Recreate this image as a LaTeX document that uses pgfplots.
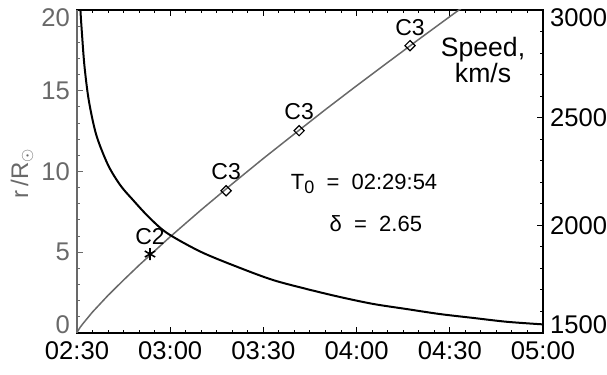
\documentclass[border=0pt]{standalone}
\usepackage{pgfplots}
\pgfplotsset{compat=1.18}
\usepackage{fontspec}
\setmainfont{Liberation Sans}
\definecolor{rgray}{RGB}{105,105,105}

\begin{document}
\begin{tikzpicture}
\useasboundingbox (-38.5pt,-21pt) rectangle (265pt,166.5pt);
\begin{axis}[
  at={(0,0)}, anchor=south west, scale only axis,
  width=233pt, height=161.5pt,
  xmin=150, xmax=300, ymin=0, ymax=20,
  xtick={150,180,210,240,270,300},
  xticklabels={02:30,03:00,03:30,04:00,04:30,05:00},
  minor x tick num=5,
  ytick={0,5,10,15,20}, minor y tick num=4,
  yticklabels={\raisebox{4pt}[\height][\depth]{0},5,10,15,\raisebox{-4pt}[\height][\depth]{20}},
  ytick pos=left, xtick pos=both, xticklabel pos=lower,
  tick align=inside,
  major tick length=2.8pt, minor tick length=1.5pt,
  axis line style={line width=0.7pt},
  tick style={line width=0.5pt, black},
  y tick style={rgray},
  yticklabel style={rgray},
  tick label style={font=\fontsize{12.8}{13}\selectfont},
  xticklabel style={yshift=-1pt},
  ylabel={r\,/R$_\odot$},
  ylabel style={rgray, font=\fontsize{12}{12}\selectfont, at={(axis description cs:-0.118,0.495)}, anchor=center},
]
\addplot[rgray, line width=0.75pt] coordinates {
(150,0.04) (151,0.35) (152,0.60) (155,1.30) (160,2.33) (165,3.28) (170,4.20)
(180,5.96) (190,7.63) (200,9.24) (210,10.81) (220,12.33) (230,13.84)
(240,15.31) (250,16.75) (260,18.18) (270,19.59) (275,20.29)
};
\addplot[only marks, mark=asterisk, mark size=3pt, line width=0.8pt, black] coordinates {(173.5,4.89)};
\addplot[only marks, mark=square, mark size=1.8pt, line width=0.6pt, black, mark options={rotate=45}] coordinates {
(198,8.81) (221.5,12.53) (257.2,17.79)
};
\node[font=\fontsize{11.5}{12}\selectfont] at (axis cs:173.5,6.0) {C2};
\node[font=\fontsize{11.5}{12}\selectfont] at (axis cs:198,9.97) {C3};
\node[font=\fontsize{11.5}{12}\selectfont] at (axis cs:221.5,13.68) {C3};
\node[font=\fontsize{11.5}{12}\selectfont] at (axis cs:257.2,18.89) {C3};
\node[font=\fontsize{11}{12}\selectfont] at (axis cs:242.4,9.23) {T\raisebox{-0.35ex}{\fontsize{9}{9}\selectfont 0}\ \ =\ \ 02:29:54};
\node[font=\fontsize{11}{12}\selectfont] at (axis cs:246.2,6.75) {δ\ \ =\ \ 2.65};
\node[font=\fontsize{13.3}{9.5}\selectfont, align=center] at (axis cs:280.7,16.9) {Speed,\\km/s};
\end{axis}
\begin{axis}[
  at={(0,0)}, anchor=south west, scale only axis,
  width=233pt, height=161.5pt,
  xmin=150, xmax=300, ymin=1500, ymax=3000,
  axis x line=none, axis y line*=right,
  y axis line style={-, line width=0.7pt},
  ytick={1500,2000,2500,3000}, minor y tick num=4,
  yticklabels={\raisebox{4pt}[\height][\depth]{1500},2000,2500,\raisebox{-4pt}[\height][\depth]{3000}},
  tick align=inside,
  major tick length=2.8pt, minor tick length=1.5pt,
  tick style={line width=0.5pt, black},
  tick label style={font=\fontsize{12.8}{13}\selectfont},
]
\addplot[black, line width=1pt, smooth] coordinates {
(150.8,3100) (151.1,3000) (151.6,2890) (152.4,2740) (153.8,2580) (156.2,2420)
(160.0,2280) (164.0,2185) (168.0,2118) (173.0,2040) (179.0,1964) (190.0,1876)
(202.5,1802) (213.1,1746) (224.0,1704) (234.7,1667) (245.3,1635) (256.2,1611)
(266.8,1588) (277.5,1570) (288.4,1552) (300,1540)
};
\end{axis}
\draw[rgray, line width=1pt] (0,0) -- (0,161.5pt);
\end{tikzpicture}
\end{document}
